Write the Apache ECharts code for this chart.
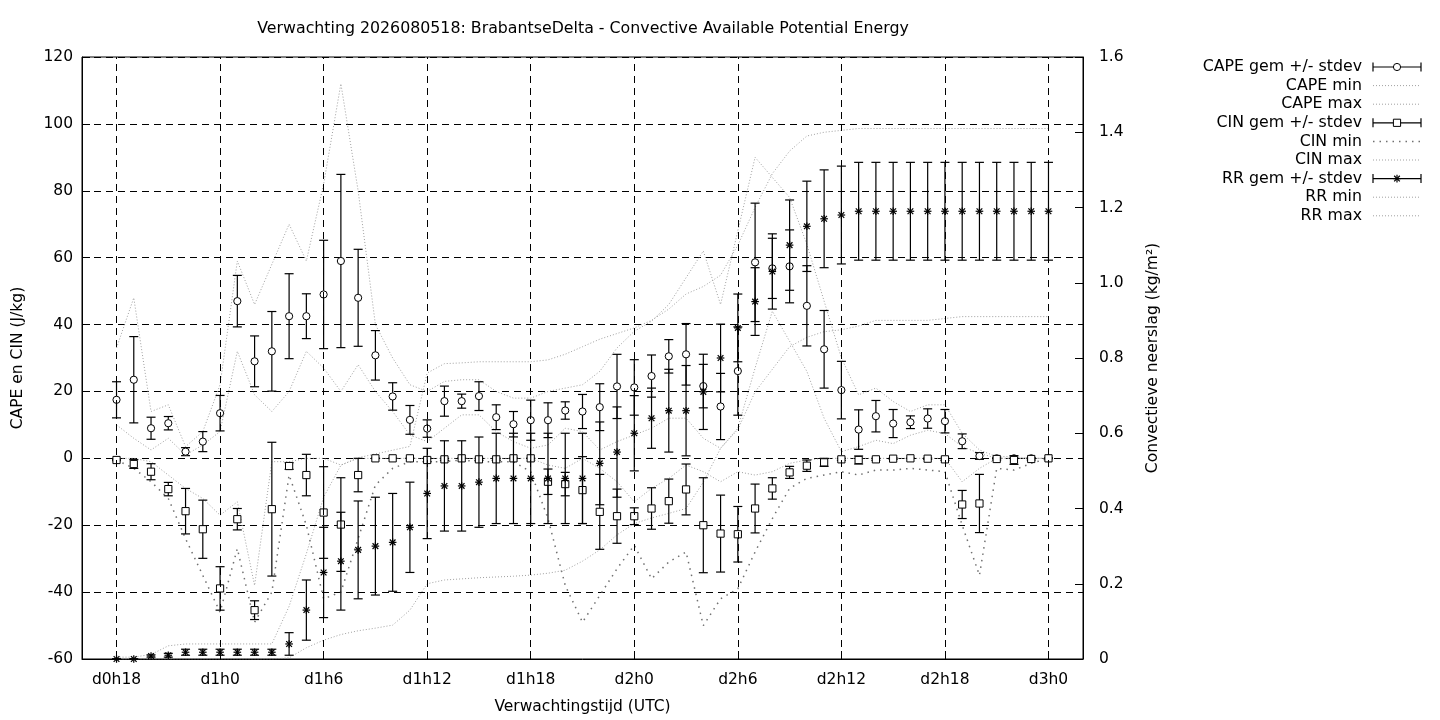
<!DOCTYPE html>
<html>
<head>
<meta charset="utf-8">
<title>CAPE BrabantseDelta</title>
<script src="https://cdn.jsdelivr.net/npm/echarts@6/dist/echarts.min.js"></script>
<style>
  html, body { margin: 0; padding: 0; background: #fff; }
  #chart { width: 1440px; height: 720px; }
</style>
</head>
<body>
<div id="chart"></div>
<script>
// uren vanaf d0h18 (index 0) t/m d3h0 (index 54)
const xTicks = [0, 6, 12, 18, 24, 30, 36, 42, 48, 54];

// CAPE (J/kg)
const capeMean = [17.5, 23.5, 9, 10.5, 2, 5, 13.5, 47, 29, 32, 42.5, 42.5, 49, 59, 48, 30.8, 18.5, 11.5, 8.9, 17.1,
  17.1, 18.6, 12.3, 10.2, 11.4, 11.4, 14.3, 14, 15.3, 21.5, 21.2, 24.6, 30.5, 31.1, 21.6, 15.5, 26.1, 58.6, 56.8, 57.4,
  45.6, 32.6, 20.4, 8.6, 12.6, 10.4, 10.8, 11.9, 11.1, 5.1, 0.7, 0, 0, 0, 0];
const capeStd = [5.4, 12.9, 3.3, 2, 1.2, 3, 5.3, 7.7, 7.6, 11.9, 12.7, 6.7, 16.2, 25.9, 14.5, 7.4, 4.1, 4.3, 2.6, 4.5,
  2.1, 4.3, 3.7, 3.8, 6.0, 5.2, 2.6, 5.1, 7.0, 9.6, 8.3, 6.3, 5.0, 9.2, 6.5, 9.9, 13.2, 17.7, 9.0, 10.9,
  12.0, 11.6, 8.6, 5.9, 4.7, 4.2, 1.9, 2.9, 3.5, 2.2, 1.0, 0, 0, 0, 0];
const capeMin = [10, 6, 2.5, 6, 1, 4, 8, 32, 19, 14, 20, 32, 27, 20, 28, 20, 14, 7, 5, 9,
  13, 13, 8, 5, 3, 4, 9, 8, 2.5, 5, 7, 9, 12, 12, 6, 3, 9, 27, 44, 35,
  26, 12, 2, 3.5, 5.4, 4.4, 6.9, 8.4, 7.4, 3.5, 1.5, 0, 0, 0, 0];
const capeMax = [33, 48, 14, 16, 3.5, 8, 22, 59, 46, 58, 70, 59, 82, 112, 80, 40, 30, 22, 20, 23,
  23.5, 23.5, 20, 18, 18, 20, 21, 22, 26, 33, 38, 41, 46, 54, 62, 46, 68, 90, 84, 78,
  64, 47, 30, 19, 21, 17, 14, 16, 16, 7.5, 2.5, 0.5, 0.5, 0, 0];

// CIN (J/kg)
const cinMean = [-0.5, -1.7, -4, -9.2, -15.8, -21.2, -38.9, -18.2, -45.4, -15.2, -2.3, -5, -16.2, -19.8, -5, 0, 0, 0, -0.5, -0.3,
  0, -0.3, -0.3, 0, 0, -7, -7.7, -9.5, -16, -17.3, -17.3, -15, -12.8, -9.3, -20, -22.5, -22.7, -15, -9, -4.2,
  -2.2, -1.2, -0.3, -0.5, -0.3, -0.1, 0, -0.1, -0.3, -13.8, -13.5, -0.2, -0.5, -0.2, 0];
const cinStd = [0.2, 1.3, 2.4, 2, 6.8, 8.7, 6.5, 3.2, 2.8, 20, 1, 6.2, 13.7, 14, 5, 0, 0, 0, 0.5, 0.3,
  0, 0.3, 0.3, 0, 0, 3.8, 3.5, 10, 11.2, 8.1, 2.5, 6.2, 6.6, 7.6, 14.2, 11.5, 8.3, 7.3, 3.2, 1.8,
  1.7, 1.2, 0.3, 1.2, 0.3, 0.2, 0, 0.2, 0.3, 4.2, 8.7, 0.3, 1.3, 0.3, 0];
const cinMin = [-0.5, -3, -7, -12, -24, -35, -46, -27, -49, -40, -5, -20, -42, -40, -24, -8, -3, -1, -1, -1,
  -0.5, -1, -1, -1, -4, -18, -38, -49, -41, -33, -26, -36, -31, -28, -50, -42, -39, -28, -18, -9,
  -6, -5, -4, -5, -3.5, -3.5, -3, -3.5, -4, -20, -35, -3, -3.5, -1.5, 0];
const cinMax = [0, 0, -1, -5, -9, -12, -17, -13, -38, -1, -1, 0, 0, -2, 0, 0, 0, 0, 0, 0,
  0, 0, 0, 0, 0, -2, -3, 0, -3, -7, -13, -9, -6, -2, -4, -7, -4, -5, -4, -1.5,
  -0.5, 0, 0, 0, 0, 0, 0, 0, 0, -7, -3, 0, 0, 0, 0];

// convectieve neerslag (kg/m2)
const rrMean = [0, 0, 0.008, 0.01, 0.018, 0.018, 0.018, 0.018, 0.018, 0.018, 0.04, 0.13, 0.23, 0.26, 0.29, 0.30, 0.31, 0.35, 0.44, 0.46,
  0.46, 0.47, 0.48, 0.48, 0.48, 0.48, 0.48, 0.48, 0.52, 0.55, 0.60, 0.64, 0.66, 0.66, 0.71, 0.80, 0.88, 0.95, 1.03, 1.10,
  1.15, 1.17, 1.18, 1.19, 1.19, 1.19, 1.19, 1.19, 1.19, 1.19, 1.19, 1.19, 1.19, 1.19, 1.19];
const rrStd = [0, 0, 0.003, 0.005, 0.008, 0.008, 0.008, 0.008, 0.008, 0.008, 0.03, 0.08, 0.12, 0.13, 0.13, 0.13, 0.13, 0.12, 0.12, 0.12,
  0.12, 0.12, 0.12, 0.12, 0.12, 0.12, 0.12, 0.12, 0.11, 0.12, 0.10, 0.08, 0.11, 0.12, 0.10, 0.09, 0.09, 0.09, 0.10, 0.12,
  0.12, 0.13, 0.13, 0.13, 0.13, 0.13, 0.13, 0.13, 0.13, 0.13, 0.13, 0.13, 0.13, 0.13, 0.13];
const rrMin = [0, 0, 0, 0, 0, 0, 0, 0, 0, 0, 0.003, 0.03, 0.05, 0.065, 0.075, 0.082, 0.09, 0.13, 0.2, 0.21,
  0.213, 0.216, 0.218, 0.22, 0.223, 0.228, 0.236, 0.26, 0.29, 0.33, 0.36, 0.375, 0.387, 0.40, 0.47, 0.56, 0.61, 0.71, 0.77, 0.83,
  0.855, 0.87, 0.875, 0.885, 0.9, 0.9, 0.9, 0.9, 0.905, 0.91, 0.91, 0.91, 0.91, 0.91, 0.91];
const rrMax = [0.005, 0.005, 0.012, 0.035, 0.04, 0.04, 0.04, 0.04, 0.04, 0.04, 0.14, 0.28, 0.43, 0.515, 0.535, 0.545, 0.555, 0.565, 0.76, 0.785,
  0.787, 0.79, 0.79, 0.79, 0.79, 0.795, 0.81, 0.83, 0.85, 0.865, 0.88, 0.9, 0.93, 0.97, 0.99, 1.02, 1.1, 1.2, 1.29, 1.35,
  1.39, 1.40, 1.405, 1.41, 1.41, 1.41, 1.41, 1.41, 1.41, 1.41, 1.41, 1.41, 1.41, 1.41, 1.41];

const FONT = '"DejaVu Sans", sans-serif';
const FS = 15.5;
const DASH = [7, 5];

function hourLabel(i) {
  const h = 18 + i;
  return 'd' + Math.floor(h / 24) + 'h' + (h % 24);
}

// symbool zoals gnuplot: open cirkel, open vierkant, sterretje
function marker(kind, x, y) {
  const st = { fill: '#fff', stroke: '#000', lineWidth: 1 };
  if (kind === 'circle') {
    return { type: 'circle', shape: { cx: x, cy: y, r: 3.6 }, style: st };
  }
  if (kind === 'square') {
    return { type: 'rect', shape: { x: x - 3.6, y: y - 3.6, width: 7.2, height: 7.2 }, style: st };
  }
  const r = 3.8, d = r * 0.75;
  const ls = { stroke: '#000', lineWidth: 1.2 };
  return {
    type: 'group',
    children: [
      { type: 'line', shape: { x1: x - r, y1: y, x2: x + r, y2: y }, style: ls },
      { type: 'line', shape: { x1: x, y1: y - r, x2: x, y2: y + r }, style: ls },
      { type: 'line', shape: { x1: x - d, y1: y - d, x2: x + d, y2: y + d }, style: ls },
      { type: 'line', shape: { x1: x - d, y1: y + d, x2: x + d, y2: y - d }, style: ls }
    ]
  };
}

function errorSeries(name, mean, std, kind, yAxisIndex) {
  return {
    name: name,
    type: 'custom',
    yAxisIndex: yAxisIndex,
    data: mean.map((m, i) => [i, m, m - std[i], m + std[i]]),
    renderItem: function (params, api) {
      const x = api.value(0);
      const p = api.coord([x, api.value(1)]);
      const lo = api.coord([x, api.value(2)]);
      const hi = api.coord([x, api.value(3)]);
      const cw = 4.5;
      const st = { stroke: '#000', lineWidth: 1.2 };
      return {
        type: 'group',
        children: [
          { type: 'line', shape: { x1: p[0], y1: lo[1], x2: p[0], y2: hi[1] }, style: st },
          { type: 'line', shape: { x1: p[0] - cw, y1: lo[1], x2: p[0] + cw, y2: lo[1] }, style: st },
          { type: 'line', shape: { x1: p[0] - cw, y1: hi[1], x2: p[0] + cw, y2: hi[1] }, style: st },
          marker(kind, p[0], p[1])
        ]
      };
    },
    z: 3,
    animation: false
  };
}

const lightDots = { color: '#a0a0a0', width: 1, type: [1, 2] };
const darkDots = { color: '#707070', width: 1.5, type: [1.5, 5] };

function dottedSeries(name, vals, yAxisIndex, style) {
  return {
    name: name,
    type: 'line',
    yAxisIndex: yAxisIndex,
    data: vals.map((v, i) => [i, v]),
    symbol: 'none',
    silent: true,
    lineStyle: style,
    z: 2,
    animation: false
  };
}

// legenda zoals gnuplot-key: tekst rechts uitgelijnd, voorbeeld rechts ervan
const legendRows = [
  ['CAPE gem +/- stdev', 'circle'],
  ['CAPE min', 'light'],
  ['CAPE max', 'light'],
  ['CIN gem +/- stdev', 'square'],
  ['CIN min', 'dark'],
  ['CIN max', 'light'],
  ['RR gem +/- stdev', 'star'],
  ['RR min', 'light'],
  ['RR max', 'light']
];

function legendGraphic() {
  const els = [];
  const tx = 1362, x1 = 1373, x2 = 1421;
  legendRows.forEach((row, k) => {
    const y = 67 + k * 18.6;
    els.push({
      type: 'text', x: tx, y: y,
      style: { text: row[0], fill: '#000', font: '15.8px ' + FONT, textAlign: 'right', textVerticalAlign: 'middle' }
    });
    if (row[1] === 'light' || row[1] === 'dark') {
      const s = row[1] === 'light' ? lightDots : darkDots;
      els.push({
        type: 'line', shape: { x1: x1, y1: y, x2: x2, y2: y },
        style: { stroke: s.color, lineWidth: s.width, lineDash: s.type }
      });
    } else {
      const st = { stroke: '#000', lineWidth: 1.2 };
      els.push({ type: 'line', shape: { x1: x1, y1: y, x2: x2, y2: y }, style: st });
      els.push({ type: 'line', shape: { x1: x1, y1: y - 4.5, x2: x1, y2: y + 4.5 }, style: st });
      els.push({ type: 'line', shape: { x1: x2, y1: y - 4.5, x2: x2, y2: y + 4.5 }, style: st });
      els.push(marker(row[1], (x1 + x2) / 2, y));
    }
  });
  return els;
}

const chart = echarts.init(document.getElementById('chart'));

const capeMinSeries = dottedSeries('CAPE min', capeMin, 0, lightDots);
capeMinSeries.markLine = {
  silent: true,
  symbol: 'none',
  label: { show: false },
  lineStyle: { color: '#000', width: 1, type: DASH },
  data: xTicks.map(v => ({ xAxis: v })),
  animation: false
};

const option = {
  backgroundColor: '#fff',
  animation: false,
  textStyle: { fontFamily: FONT },
  title: {
    text: 'Verwachting 2026080518: BrabantseDelta - Convective Available Potential Energy',
    left: 583,
    top: 21,
    padding: 0,
    textAlign: 'center',
    textStyle: { fontSize: 15.8, fontWeight: 'normal', fontFamily: FONT, color: '#000' }
  },
  grid: {
    left: 82, right: 357, top: 57, bottom: 61,
    show: true, borderColor: '#000', borderWidth: 1, backgroundColor: 'transparent'
  },
  xAxis: {
    type: 'value',
    min: -2,
    max: 56,
    name: 'Verwachtingstijd (UTC)',
    nameLocation: 'middle',
    nameGap: 40,
    nameTextStyle: { fontSize: FS, color: '#000', fontFamily: FONT },
    axisLine: { show: true, onZero: false, lineStyle: { color: '#000', width: 1 } },
    axisTick: { show: true, inside: true, length: 8, customValues: xTicks, lineStyle: { color: '#000' } },
    axisLabel: { customValues: xTicks, formatter: v => hourLabel(v), fontSize: FS, color: '#000', margin: 13, fontFamily: FONT },
    splitLine: { show: false }
  },
  yAxis: [
    {
      type: 'value',
      min: -60,
      max: 120,
      interval: 20,
      name: 'CAPE en CIN (J/kg)',
      nameLocation: 'middle',
      nameGap: 56,
      nameRotate: 90,
      nameTextStyle: { fontSize: FS, color: '#000', fontFamily: FONT },
      axisLine: { show: true, onZero: false, lineStyle: { color: '#000', width: 1 } },
      axisTick: { show: true, inside: true, length: 8, lineStyle: { color: '#000' } },
      axisLabel: { fontSize: FS, color: '#000', margin: 9, fontFamily: FONT },
      splitLine: { show: true, lineStyle: { color: '#000', width: 1, type: DASH } }
    },
    {
      type: 'value',
      position: 'right',
      min: 0,
      max: 1.6,
      interval: 0.2,
      name: 'Convectieve neerslag (kg/m²)',
      nameLocation: 'middle',
      nameGap: 62,
      nameRotate: 90,
      nameTextStyle: { fontSize: FS, color: '#000', fontFamily: FONT },
      axisLine: { show: true, onZero: false, lineStyle: { color: '#000', width: 1 } },
      axisTick: { show: true, inside: true, length: 8, lineStyle: { color: '#000' } },
      axisLabel: {
        fontSize: FS, color: '#000', margin: 16, fontFamily: FONT,
        formatter: v => (Math.abs(v) < 1e-9 ? '0' : v.toFixed(1))
      },
      splitLine: { show: false }
    }
  ],
  series: [
    errorSeries('CAPE gem +/- stdev', capeMean, capeStd, 'circle', 0),
    capeMinSeries,
    dottedSeries('CAPE max', capeMax, 0, lightDots),
    errorSeries('CIN gem +/- stdev', cinMean, cinStd, 'square', 0),
    dottedSeries('CIN min', cinMin, 0, darkDots),
    dottedSeries('CIN max', cinMax, 0, lightDots),
    errorSeries('RR gem +/- stdev', rrMean, rrStd, 'star', 1),
    dottedSeries('RR min', rrMin, 1, lightDots),
    dottedSeries('RR max', rrMax, 1, lightDots)
  ],
  graphic: legendGraphic()
};

chart.setOption(option);
</script>
</body>
</html>
